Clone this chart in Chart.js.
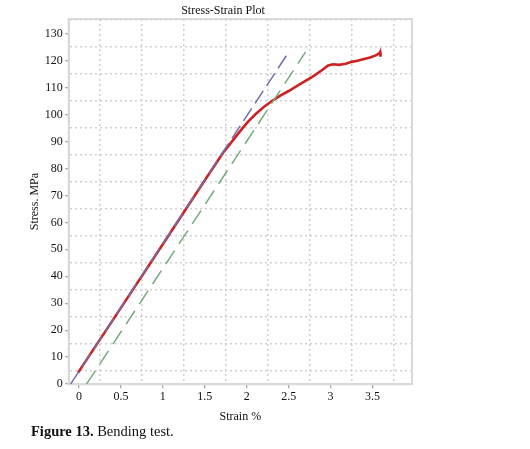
<!DOCTYPE html>
<html>
<head>
<meta charset="utf-8">
<script src="https://cdn.jsdelivr.net/npm/chart.js@4.4.0/dist/chart.umd.min.js"></script>
<style>
  body { margin: 0; background: #fff; }
  #wrap { position: absolute; left: 0; top: 0; width: 446px; height: 426px; }
  .title { position: absolute; left: 123px; width: 200px; top: 2px; text-align: center;
           font: 12px "Liberation Serif", serif; line-height: 16px; color: #111; }
  .caption { position: absolute; left: 31px; top: 423px; font: 14.5px "Liberation Serif", serif;
             line-height: 17px; color: #111; }
</style>
</head>
<body>
<div id="wrap"><canvas id="chart"></canvas></div>
<div class="title">Stress-Strain Plot</div>
<div class="caption"><b>Figure 13.</b> Bending test.</div>
<script>
// measured curve (strain %, stress MPa)
const curveStrain = [-0.01, 0.5, 1.0, 1.5, 1.72, 1.8, 1.9, 2.0, 2.1, 2.2, 2.3, 2.4, 2.5, 2.6, 2.7,
  2.8, 2.9, 2.97, 3.03, 3.1, 3.18, 3.25, 3.32, 3.4, 3.47, 3.53, 3.58, 3.59, 3.595];
const curveStress = [4.3, 28.3, 51.9, 75.6, 85.9, 89.0, 93.0, 96.8, 100.0, 102.7, 105.0, 107.0, 108.7, 110.6, 112.5,
  114.3, 116.5, 118.2, 118.6, 118.4, 118.8, 119.5, 119.9, 120.6, 121.1, 121.8, 122.6, 123.2, 121.4];

// elastic fit line and offset line
const elasticStrain = [-0.1, 2.5];
const elasticStress = [0, 123.1];
const offsetStrain = [0.09, 2.7];
const offsetStress = [0, 123.1];

const toPoints = (xs, ys) => xs.map((x, i) => ({ x: x, y: ys[i] }));

const tickFont = { family: 'Liberation Serif', size: 12 };
const gridColor = '#cfcfcf';

const frame = {
  id: 'frame',
  beforeDatasetsDraw(chart) {
    const a = chart.chartArea;
    const ctx = chart.ctx;
    ctx.save();
    ctx.strokeStyle = '#d9d9d9';
    ctx.lineWidth = 2;
    ctx.strokeRect(a.left, a.top, a.right - a.left, a.bottom - a.top);
    ctx.restore();
  }
};

new Chart(document.getElementById('chart'), {
  type: 'scatter',
  data: {
    datasets: [{
      data: toPoints(elasticStrain, elasticStress),
      showLine: true,
      borderColor: '#6f6fae',
      borderWidth: 1.5,
      borderDash: [15, 6],
      pointRadius: 0
    }, {
      data: toPoints(offsetStrain, offsetStress),
      showLine: true,
      borderColor: '#74a97a',
      borderWidth: 1.5,
      borderDash: [16, 8],
      pointRadius: 0
    }, {
      data: toPoints(curveStrain, curveStress),
      showLine: true,
      borderColor: '#cc2222',
      borderWidth: 2.6,
      pointRadius: 0,
      tension: 0
    }]
  },
  options: {
    responsive: true,
    maintainAspectRatio: false,
    animation: false,
    layout: { padding: { left: 23.8, right: 34, top: 19, bottom: 0 } },
    plugins: {
      legend: { display: false },
      tooltip: { enabled: false }
    },
    scales: {
      x: {
        type: 'linear',
        min: -0.122,
        max: 3.97,
        border: { color: '#d9d9d9', width: 2, dash: [2, 3] },
        grid: {
          lineWidth: 1.5,
          tickLength: 4,
          color: c => (c.tick && Math.round(c.tick.value * 4) % 2 !== 0) ? gridColor : 'transparent',
          tickColor: c => (c.tick && Math.round(c.tick.value * 4) % 2 === 0) ? '#888' : 'transparent',
          tickWidth: 1
        },
        ticks: {
          stepSize: 0.25,
          includeBounds: false,
          maxRotation: 0,
          autoSkip: false,
          padding: 1.5,
          color: '#111',
          font: tickFont,
          callback: v => (Math.round(v * 4) % 2 === 0) ? String(v) : ''
        },
        title: {
          display: true,
          text: 'Strain %',
          color: '#111',
          font: tickFont,
          padding: { top: 4, bottom: 2 }
        }
      },
      y: {
        type: 'linear',
        min: 0,
        max: 135.4,
        border: { color: '#d9d9d9', width: 2, dash: [2, 3] },
        grid: {
          lineWidth: 1.5,
          tickLength: 3.5,
          color: c => (c.tick && Math.round(c.tick.value) % 10 === 5) ? gridColor : 'transparent',
          tickColor: c => (c.tick && Math.round(c.tick.value) % 10 === 0) ? '#888' : 'transparent',
          tickWidth: 1
        },
        ticks: {
          stepSize: 5,
          includeBounds: false,
          autoSkip: false,
          padding: 2.5,
          color: '#111',
          font: tickFont,
          callback: v => (Math.round(v) % 10 === 0) ? String(v) : ''
        },
        title: {
          display: true,
          text: 'Stress. MPa',
          color: '#111',
          font: tickFont,
          padding: { top: 4, bottom: 0 }
        }
      }
    }
  },
  plugins: [frame]
});
</script>
</body>
</html>
